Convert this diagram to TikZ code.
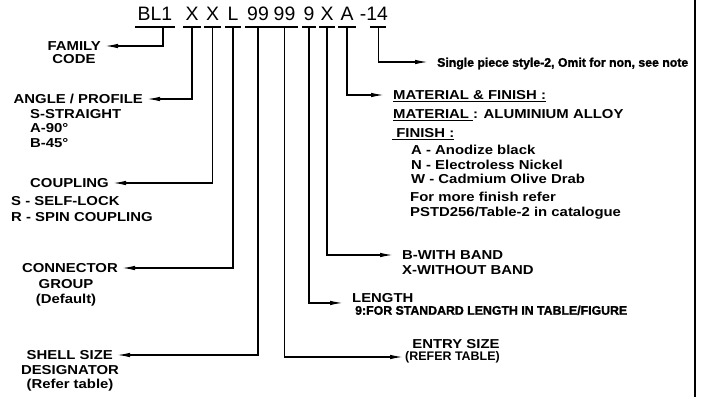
\documentclass[tikz,border=0pt]{standalone}
\usepackage{fontspec}
\setmainfont{Liberation Sans}
\newfontfamily\lblfont{Liberation Sans}[FakeStretch=1.15]
\newfontfamily\heavyfont{Liberation Sans}[FakeBold=1.5]
\usepackage{graphicx}
\usetikzlibrary{arrows.meta, positioning}

% condensed heavy line, squeezed to a given width
\newcommand{\squeezed}[3]{\resizebox{#1}{\height}{\heavyfont\fontsize{#2}{#2}\selectfont\bfseries #3}}
% underlined text
\newsavebox{\ulsave}
\newcommand{\ulbox}[1]{\sbox{\ulsave}{#1}\rlap{\rule[-2.5bp]{\wd\ulsave}{1.2bp}}\usebox{\ulsave}}

\begin{document}
\begin{tikzpicture}[
        x=1bp, y=-1bp,
        code/.style={font=\fontsize{19.5}{20}\selectfont, inner sep=0pt,
                     text height=14bp, text depth=6bp, anchor=south},
        lbl/.style={font=\lblfont\bfseries\fontsize{13}{15}\selectfont,
                    inner sep=0pt, text height=9.5bp, text depth=0pt},
        sublbl/.style={font=\lblfont\bfseries\fontsize{13}{#1}\selectfont,
                       inner sep=0pt},
        sublbl/.default=14.5,
        entrylbl/.style={font=\bfseries\fontsize{12.5}{14}\selectfont, inner sep=0pt},
        rule/.style={line width=1.3bp},
        arrow/.style={-{Latex[length=13bp, width=4.5bp]}, line width=1.3bp},
        toleft/.style={arrow, shorten >=4bp},
        toright/.style={arrow, shorten >=9bp}
    ]
    \useasboundingbox (0,0) rectangle (705,398);

    % part number
    \node[code, minimum width=40bp] (bl1) at (155,27) {BL1};
    \node[code, minimum width=18bp] (profx) at (192,27) {X};
    \node[code, minimum width=17bp] (coupx) at (212.5,27) {X};
    \node[code, minimum width=16bp] (grpl) at (233,27) {L};
    \node[code, minimum width=25bp] (shell99) at (258,27) {99};
    \node[code, minimum width=26bp] (entry99) at (284.5,27) {99};
    \node[code, minimum width=13bp] (len9) at (309,27) {9};
    \node[code, minimum width=15bp] (bandx) at (327,27) {X};
    \node[code, minimum width=17bp] (fina) at (347,27) {A};
    \node[code] (suffix) at (374,27) {-14};

    \foreach \n in {bl1,profx,coupx,grpl,shell99,entry99,len9,bandx,fina}
        \draw[rule] (\n.south west) -- (\n.south east);
    \draw[rule] ([xshift=-18bp]suffix.south east) -- ([xshift=-2bp]suffix.south east);

    % left side
    \node[lbl, anchor=east] (family) at (101,46) {FAMILY};
    \node[sublbl, anchor=north] (familysub) at (74,54.3) {CODE};
    \node[lbl, anchor=east] (angle) at (143,99) {ANGLE / PROFILE};
    \node[sublbl, anchor=north west, align=left] (anglesub) at (30,109.3) {S-STRAIGHT\\A-90°\\B-45°};
    \node[lbl, anchor=east] (coupling) at (109,183) {COUPLING};
    \node[sublbl=16, anchor=north west, align=left] (coupsub) at (11,196.3) {S - SELF-LOCK\\R - SPIN COUPLING};
    \node[lbl, anchor=east] (connector) at (118,268) {CONNECTOR};
    \node[sublbl=15, anchor=north, align=center] (connsub) at (66,279.3) {GROUP\\(Default)};
    \node[lbl, anchor=east] (shell) at (113,355) {SHELL SIZE};
    \node[sublbl, anchor=north, align=center] (shellsub) at (70,365.3) {DESIGNATOR\\(Refer table)};

    % right side
    \node[lbl, anchor=west] (single) at (437,62) {\squeezed{251bp}{12.5}{Single piece style-2, Omit for non, see note}};
    \node[lbl, anchor=west] (matttl) at (393,95) {\ulbox{MATERIAL \& FINISH :}};
    \node[sublbl, anchor=north west] (matline) at (393,109.3) {\ulbox{MATERIAL\ }: ALUMINIUM ALLOY};
    \node[sublbl, anchor=north west] (finttl) at (392,128.3) {\ulbox{\ FINISH :}};
    \node[sublbl, anchor=north west, align=left] (finlist) at (411,145.3) {A - Anodize black\\N - Electroless Nickel\\W - Cadmium Olive Drab};
    \node[sublbl=15, anchor=north west, align=left] (finmore) at (410,192.3) {For more finish refer\\PSTD256/Table-2 in catalogue};
    \node[lbl, anchor=west] (bandttl) at (402,255) {B-WITH BAND};
    \node[sublbl, anchor=north west] (bandsub) at (402,265.3) {X-WITHOUT BAND};
    \node[lbl, anchor=west] (lenttl) at (352,298) {LENGTH};
    \node[sublbl, anchor=north west] (lensub) at (355,305.5) {\squeezed{272bp}{12.5}{9:FOR STANDARD LENGTH IN TABLE/FIGURE}};
    \node[entrylbl, anchor=west] (entrysub) at (405,357) {(REFER TABLE)};
    \node[lbl] (entry) at (456,344) {ENTRY SIZE};

    % leaders
    \draw[toleft] ([xshift=8bp]bl1.south) |- (family.east);
    \draw[toleft] (profx.south) |- (angle.east);
    \draw[toleft] (coupx.south) |- (coupling.east);
    \draw[toleft] (grpl.south) |- (connector.east);
    \draw[toleft] (shell99.south) |- (shell.east);
    \draw[toright, shorten >=2bp] (entry99.south) |- (entrysub.west);
    \draw[toright] (len9.south) |- (lenttl.south west);
    \draw[toright] (bandx.south) |- (bandttl.west);
    \draw[toright] (fina.south) |- (matttl.west);
    \draw[toright] ([xshift=-10bp]suffix.south east) |- (single.west);

    \draw[rule] (695,0) -- (695,397);
\end{tikzpicture}
\end{document}
